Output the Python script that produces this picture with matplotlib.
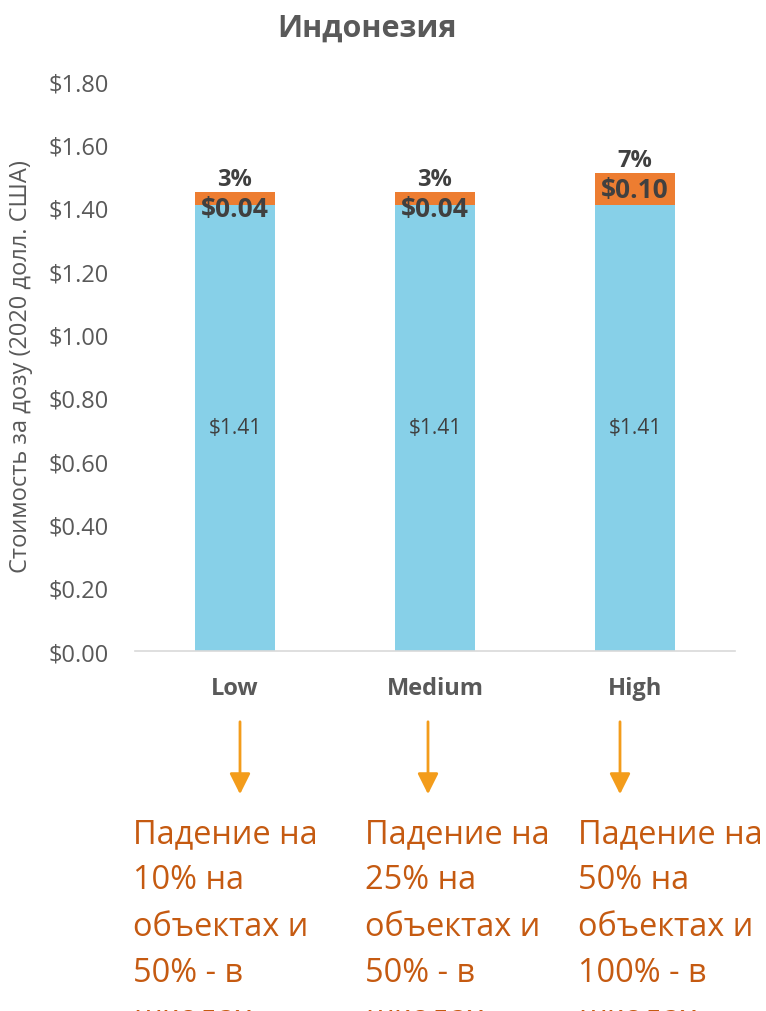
import matplotlib.pyplot as plt
from matplotlib.patches import FancyArrowPatch
import numpy as np

plt.rcParams['font.family'] = ['Open Sans', 'DejaVu Sans']

categories = ['Low', 'Medium', 'High']
base_cost = [1.41, 1.41, 1.41]
extra_cost = [0.04, 0.04, 0.10]
pct_labels = ['3%', '3%', '7%']
yticks = [0.0, 0.2, 0.4, 0.6, 0.8, 1.0, 1.2, 1.4, 1.6, 1.8]
notes = ['Падение на\n10% на\nобъектах и\n50% - в\nшколах',
         'Падение на\n25% на\nобъектах и\n50% - в\nшколах',
         'Падение на\n50% на\nобъектах и\n100% - в\nшколах']

fig = plt.figure(figsize=(7.66, 10.12), dpi=100)
ax = fig.add_axes([0.1762, 0.3557, 0.7833, 0.5632])

x = np.arange(len(categories))
ax.bar(x, base_cost, width=0.4, color='#87D0E8')
ax.bar(x, extra_cost, width=0.4, bottom=base_cost, color='#ED7D31')

for i in range(len(categories)):
    top = base_cost[i] + extra_cost[i]
    ax.text(x[i], base_cost[i] / 2, f'${base_cost[i]:.2f}', ha='center', va='center',
            fontsize=15, color='#404040')
    ax.annotate(f'${extra_cost[i]:.2f}', (x[i], top), xytext=(0, -2),
                textcoords='offset points', ha='center', va='top',
                fontsize=19, fontweight='bold', color='#404040')
    ax.annotate(pct_labels[i], (x[i], top), xytext=(0, 1),
                textcoords='offset points', ha='center', va='bottom',
                fontsize=17, fontweight='bold', color='#404040')

ax.set_xlim(-0.5, 2.5)
ax.set_ylim(0, 1.8)
ax.set_yticks(yticks)
ax.set_yticklabels([f'${v:.2f}' for v in yticks], fontsize=17, color='#595959')
ax.set_xticks(x)
ax.set_xticklabels(categories, fontsize=17, fontweight='bold', color='#595959')
ax.tick_params(axis='both', length=0)
ax.tick_params(axis='x', pad=18)
ax.tick_params(axis='y', pad=19)
for s in ['top', 'right', 'left']:
    ax.spines[s].set_visible(False)
ax.spines['bottom'].set_color('#D9D9D9')
ax.spines['bottom'].set_linewidth(1.2)

ax.set_ylabel('Стоимость за дозу (2020 долл. США)', fontsize=17, color='#595959')
ax.yaxis.set_label_coords(-0.17, 0.5)

fig.text(367 / 766, 1 - 29 / 1012, 'Индонезия', ha='center', va='center',
         fontsize=22, fontweight='bold', color='#595959')

arrow_x = [240, 428, 620]
for px in arrow_x:
    fig.add_artist(FancyArrowPatch(
        (px / 766, 1 - 720 / 1012), (px / 766, 1 - 798 / 1012),
        transform=fig.transFigure, arrowstyle='-|>,head_length=0.9,head_width=0.45',
        mutation_scale=14, color='#F39C1B', lw=2))

# the last line runs off the bottom edge, as in the original slide
note_x = [133, 365, 578]
for nx, txt in zip(note_x, notes):
    fig.text(nx / 766, 1 - 818 / 1012, txt, ha='left', va='top', fontsize=23.4,
             color='#C55A11', linespacing=1.535)

fig.savefig('out.png', dpi=100)
